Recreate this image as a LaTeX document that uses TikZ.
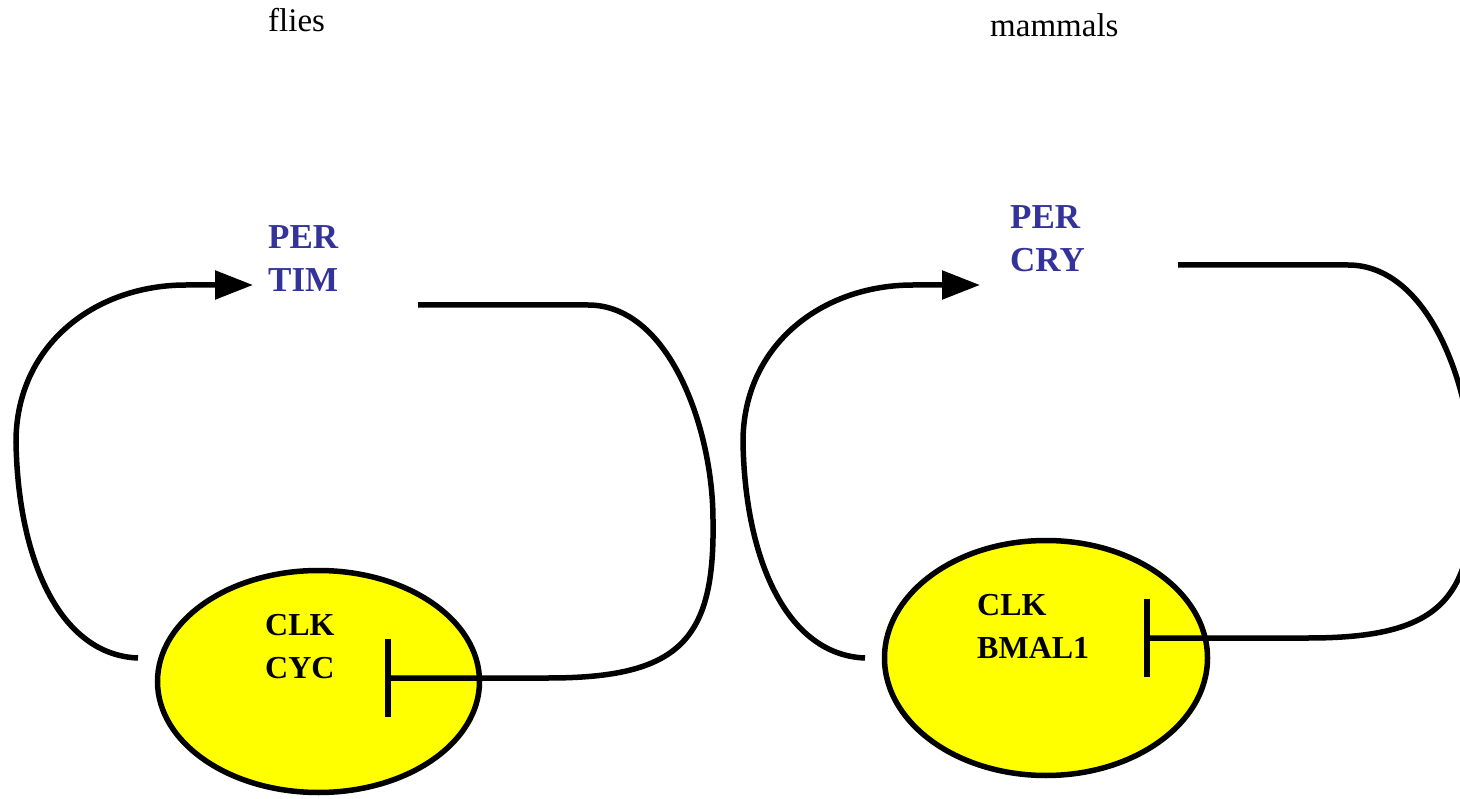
\documentclass[tikz,border=0pt]{standalone}
\usepackage{fontspec}
\setmainfont{Liberation Serif}
\usetikzlibrary{arrows.meta,shapes.geometric}
\definecolor{perblue}{RGB}{51,51,153}
\definecolor{clkyellow}{RGB}{255,255,0}
\begin{document}
\begin{tikzpicture}[x=1pt,y=-1pt,
  loopline/.style={line width=5.5pt},
  act/.style={loopline,-{Triangle[length=38pt,width=28pt]}},
  inh/.style={loopline,-{Bar[width=78pt]}},
  cellbox/.style={ellipse,draw,line width=5.5pt,fill=clkyellow,inner sep=0pt},
  pertxt/.style={font=\fontsize{35}{43}\selectfont\bfseries,text=perblue,align=left,anchor=base west,inner sep=0pt},
  clktxt/.style={font=\fontsize{32}{43}\selectfont\bfseries,align=left,anchor=base west,inner sep=0pt},
  titletxt/.style={font=\fontsize{33}{40}\selectfont,anchor=base west,inner sep=0pt}]
\useasboundingbox (0,0) rectangle (1460,799);
\clip (0,0) rectangle (1460,799);

% titles
\node[titletxt] (flies) at (268,32) {flies};
\node[titletxt] (mammals) at (990,37) {mammals};

% cells
\node[cellbox, minimum width=322pt, minimum height=222pt] (fCell) at (318.5,681.5) {};
\node[cellbox, minimum width=323pt, minimum height=235pt] (mCell) at (1046,658) {};

% labels (anchor = baseline of last line)
\node[pertxt] (fPer) at (268,292) {PER\\TIM};
\node[pertxt] (mPer) at (1010,272) {PER\\CRY};
\node[clktxt] (fClk) at (265,678) {CLK\\CYC};
\node[clktxt] (mClk) at (977,658) {CLK\\BMAL1};

% connector ends
\coordinate (fA) at (138,658);
\coordinate (fTip) at (253,285);
\coordinate (fOut) at (418,305);
\coordinate (fBar) at (385,678);
\coordinate (mA) at (865,658);
\coordinate (mTip) at (980,285);
\coordinate (mOut) at (1178,265);
\coordinate (mBar) at (1144,638);

% flies loop
\draw[act] (fA) .. controls (60,655) and (18,560) .. (16,442)
  .. controls (16,345) and (95,285) .. (186,285) -- (fTip);
\draw[inh] (fOut) -- (588,305) .. controls (670,305) and (713,430) .. (713,520)
  .. controls (715,640) and (680,678) .. (548,678) -- (fBar);

% mammals loop
\draw[act] (mA) .. controls (787,655) and (745,560) .. (743,442)
  .. controls (743,345) and (822,285) .. (913,285) -- (mTip);
\draw[inh] (mOut) -- (1348,265) .. controls (1430,265) and (1473,390) .. (1473,480)
  .. controls (1475,600) and (1440,638) .. (1308,638) -- (mBar);
\end{tikzpicture}
\end{document}
